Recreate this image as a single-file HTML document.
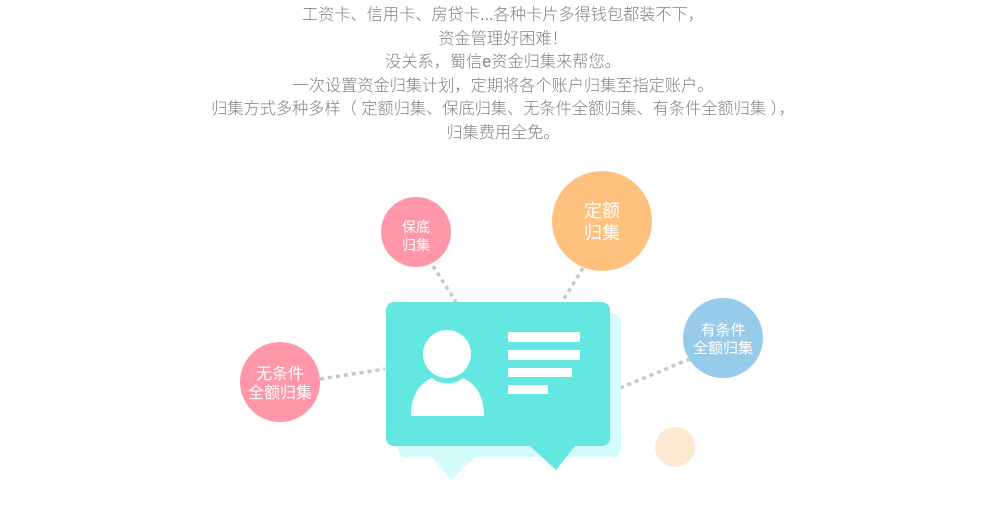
<!DOCTYPE html>
<html><head><meta charset="utf-8"><style>
html,body{margin:0;padding:0;background:#fff;width:1000px;height:512px;overflow:hidden}
.t{position:absolute;left:0;top:4px;width:1006px;text-align:center;font-family:"Liberation Sans","Noto Sans CJK SC",sans-serif;font-size:16.2px;line-height:23.6px;color:#808080;font-weight:300}
svg{position:absolute;left:0;top:0}
</style></head><body>
<div class="t">工资卡、信用卡、房贷卡...各种卡片多得钱包都装不下，<br>资金管理好困难！<br>没关系，蜀信e资金归集来帮您。<br>一次设置资金归集计划，定期将各个账户归集至指定账户。<br>归集方式多种多样（&nbsp;定额归集、保底归集、无条件全额归集、有条件全额归集&nbsp;），<br>归集费用全免。</div>
<svg width="1000" height="512" viewBox="0 0 1000 512" font-family="Liberation Sans,Noto Sans CJK SC,sans-serif">
<g stroke="#c8c8c8" stroke-width="3.5" stroke-dasharray="4 4" fill="none">
<line x1="433" y1="266" x2="456" y2="302"/>
<line x1="583" y1="268" x2="562" y2="302"/>
<line x1="320" y1="379" x2="385" y2="369"/>
<line x1="620" y1="388" x2="690" y2="359"/>
</g>
<rect x="398" y="314" width="223" height="143" rx="8" fill="#d4fcfa"/>
<polygon points="432,457 475,457 451,480" fill="#d4fcfa"/>
<rect x="386" y="302" width="224" height="144" rx="8" fill="#62e8e0"/>
<polygon points="530,446 575,446 556,470" fill="#62e8e0"/>
<circle cx="447" cy="354" r="24" fill="#fff"/>
<path d="M411,416 C411,395 420,383 432,378 C440,385 455,385 463,378 C476,384 484,396 484,416 Z" fill="#fff"/>
<g fill="#fff"><rect x="508" y="332" width="72" height="10" rx="1.5"/><rect x="508" y="350" width="72" height="10" rx="1.5"/><rect x="508" y="368" width="64" height="9" rx="1.5"/><rect x="508" y="385" width="40" height="9" rx="1.5"/></g>
<circle cx="416" cy="232" r="35" fill="#ff97a8"/>
<circle cx="602" cy="221" r="50" fill="#ffc17e"/>
<circle cx="723" cy="338" r="40" fill="#97cbea"/>
<circle cx="280" cy="382" r="40" fill="#ff97a8"/>
<circle cx="675" cy="447" r="20" fill="#fde8d2"/>
<g fill="#fff" text-anchor="middle">
<text x="416" y="232" font-size="14">保底</text><text x="416" y="250" font-size="14">归集</text>
<text x="602" y="217" font-size="18">定额</text><text x="602" y="239" font-size="18">归集</text>
<text x="723" y="335" font-size="15">有条件</text><text x="723" y="353" font-size="15">全额归集</text>
<text x="280" y="379" font-size="16">无条件</text><text x="280" y="398" font-size="16">全额归集</text>
</g>
</svg>
</body></html>
